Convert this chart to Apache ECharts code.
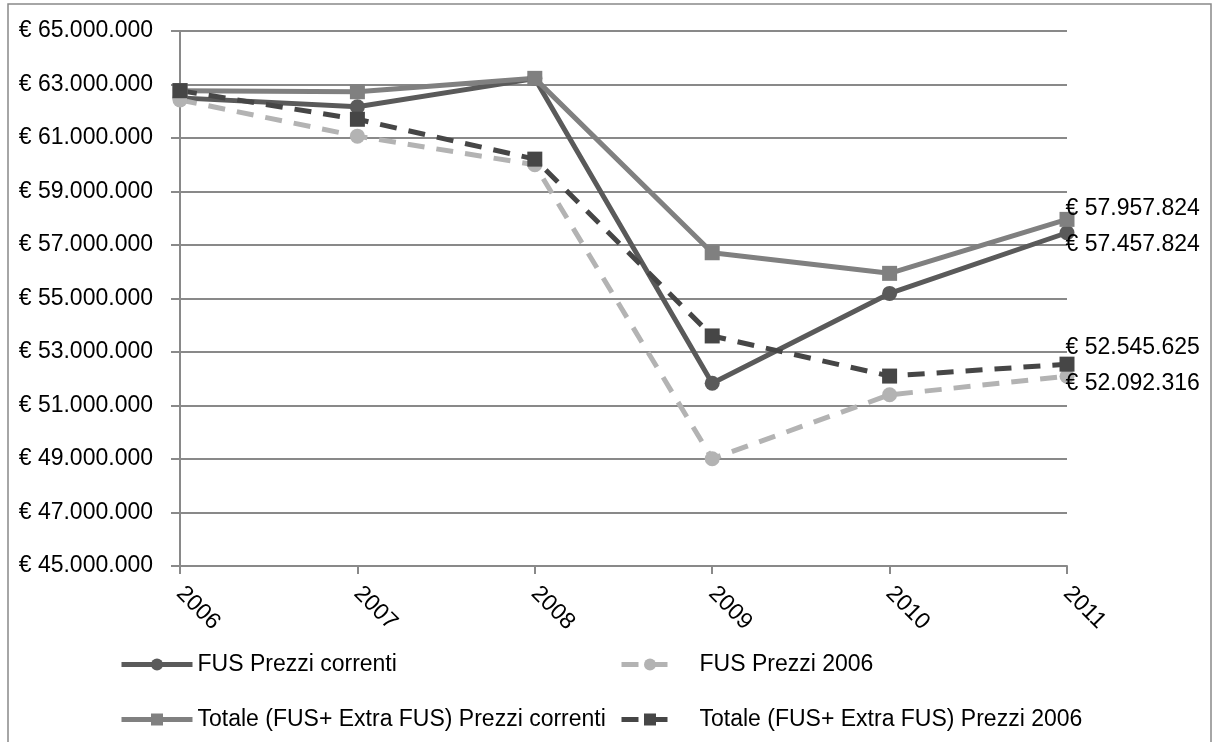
<!DOCTYPE html>
<html>
<head>
<meta charset="utf-8">
<title>FUS</title>
<script src="https://cdn.jsdelivr.net/npm/echarts@6/dist/echarts.min.js"></script>
<style>
  html, body { margin: 0; padding: 0; background: #fff; }
  #chart { width: 1214px; height: 742px; }
</style>
</head>
<body>
<div id="chart"></div>
<script>
// dati
const years = ['2006', '2007', '2008', '2009', '2010', '2011']
const fusCorrenti = [62500000, 62170000, 63220000, 51830000, 55190000, 57457824]
const fus2006 = [62420000, 61070000, 60000000, 49010000, 51400000, 52092316]
const totCorrenti = [62770000, 62730000, 63230000, 56710000, 55940000, 57957824]
const tot2006 = [62770000, 61700000, 60210000, 53600000, 52100000, 52545625]
const seriesNames = [
  'FUS Prezzi correnti',
  'FUS Prezzi 2006',
  'Totale (FUS+ Extra FUS) Prezzi correnti',
  'Totale (FUS+ Extra FUS) Prezzi 2006'
]

const FONT = 'Liberation Sans'
const AXIS_GRAY = '#898989'

const fmtEuro = (v) => '\u20AC ' + Math.round(v).toString().replace(/\B(?=(\d{3})+(?!\d))/g, '.')

// etichetta solo sull'ultimo punto
const lastLabel = (dy) => ({
  show: true,
  position: 'right',
  distance: 0,
  offset: [-9, dy],
  color: '#000',
  fontFamily: FONT,
  fontSize: 23,
  formatter: (p) => (p.dataIndex === years.length - 1 ? fmtEuro(p.value) : '')
})

const makeSeries = (name, data, color, dashed, symbol, labelDy) => ({
  name,
  type: 'line',
  data,
  symbol,
  symbolSize: 15,
  showSymbol: true,
  lineStyle: { color, width: 5, type: dashed ? [17, 12] : 'solid', cap: 'butt' },
  itemStyle: { color },
  label: lastLabel(labelDy),
  emphasis: { disabled: true },
  animation: false
})

const chart = echarts.init(document.getElementById('chart'))

const legendText = { color: '#000', fontFamily: FONT, fontSize: 23 }
const legendBase = { padding: 0, itemHeight: 15, lineStyle: { width: 5 } }

const option = {
  backgroundColor: '#fff',
  animation: false,
  grid: { left: 180, right: 147, top: 31, bottom: 176, outerBoundsMode: 'none', containLabel: false },
  graphic: [
    {
      type: 'rect',
      shape: { x: 8, y: 4, width: 1203, height: 780 },
      style: { fill: 'none', stroke: AXIS_GRAY, lineWidth: 1.5 },
      silent: true
    }
  ],
  legend: [
    {
      ...legendBase, data: [seriesNames[0]], left: 119, top: 653,
      itemWidth: 71, textStyle: legendText
    },
    {
      ...legendBase, data: [seriesNames[1]], left: 619, top: 653,
      itemWidth: 57, textStyle: { ...legendText, padding: [0, 0, 0, 16] }
    },
    {
      ...legendBase, data: [seriesNames[2]], left: 119, top: 708,
      itemWidth: 71, textStyle: legendText
    },
    {
      ...legendBase, data: [seriesNames[3]], left: 619, top: 708,
      itemWidth: 57, textStyle: { ...legendText, padding: [0, 0, 0, 16] }
    }
  ],
  xAxis: {
    type: 'category',
    data: years,
    boundaryGap: false,
    axisLine: { lineStyle: { color: AXIS_GRAY, width: 2 } },
    axisTick: { show: true, length: 8, alignWithLabel: true, lineStyle: { color: AXIS_GRAY, width: 2 } },
    axisLabel: {
      rotate: -45,
      margin: 24,
      color: '#000',
      fontFamily: FONT,
      fontSize: 23
    },
    splitLine: { show: false }
  },
  yAxis: {
    type: 'value',
    min: 45000000,
    max: 65000000,
    interval: 2000000,
    axisLine: { show: true, lineStyle: { color: AXIS_GRAY, width: 2 } },
    axisTick: { show: true, length: 9, lineStyle: { color: AXIS_GRAY, width: 2 } },
    axisLabel: {
      margin: 27,
      color: '#000',
      fontFamily: FONT,
      fontSize: 23,
      formatter: fmtEuro
    },
    splitLine: { lineStyle: { color: AXIS_GRAY, width: 2 } }
  },
  series: [
    makeSeries(seriesNames[0], fusCorrenti, '#5a5a5a', false, 'circle', 12),
    makeSeries(seriesNames[1], fus2006, '#b3b3b3', true, 'circle', 7),
    makeSeries(seriesNames[2], totCorrenti, '#808080', false, 'rect', -11),
    makeSeries(seriesNames[3], tot2006, '#464646', true, 'rect', -16)
  ]
}

chart.setOption(option)
</script>
</body>
</html>
